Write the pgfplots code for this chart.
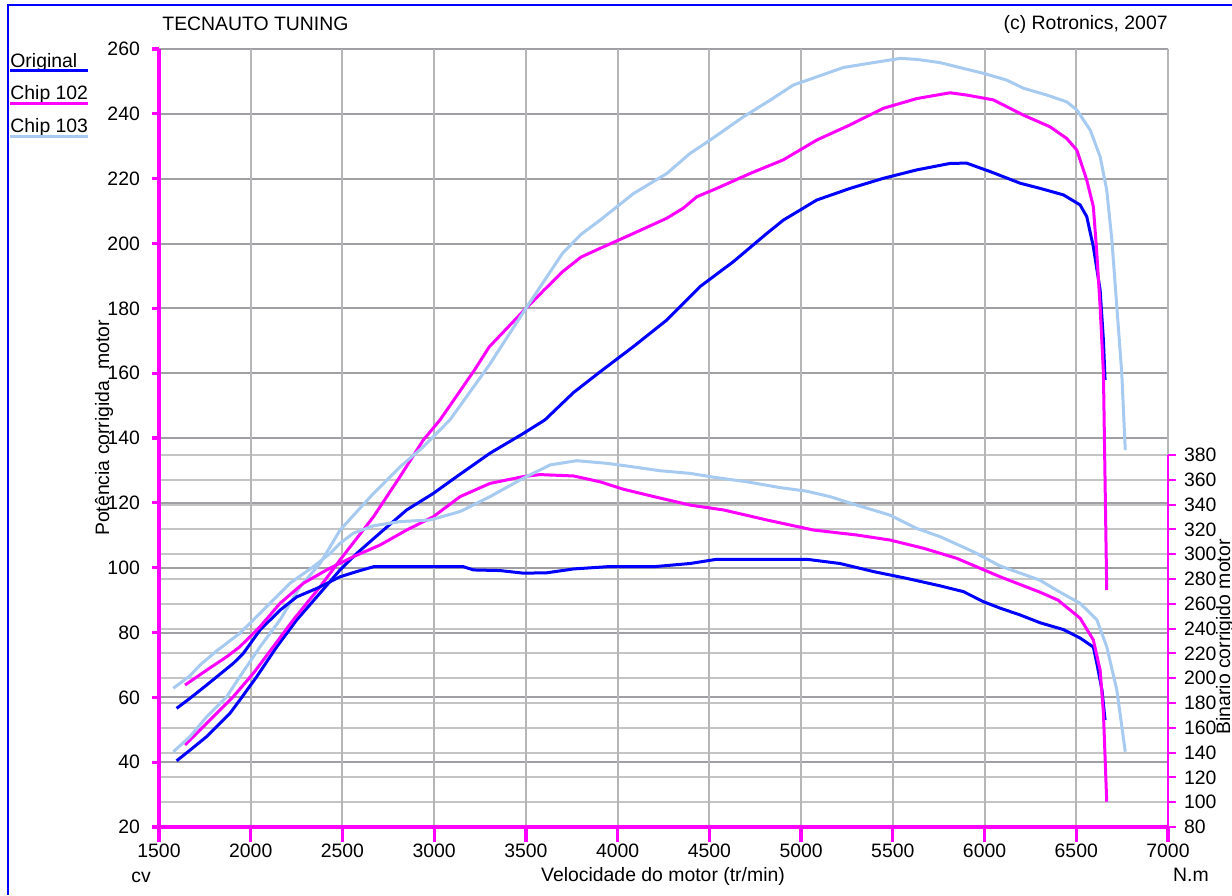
\documentclass[border=0pt]{standalone}
\usepackage{fontspec}
\setmainfont{Liberation Sans}
\usepackage{pgfplots}
\pgfplotsset{compat=1.18}
\usepackage{pgfplotstable}

\definecolor{orig}{RGB}{0,0,255}
\definecolor{chipa}{RGB}{255,0,255}
\definecolor{chipb}{RGB}{166,202,240}
\definecolor{gridA}{RGB}{160,160,164}
\definecolor{gridB}{RGB}{196,196,196}
\definecolor{gridV}{RGB}{182,182,182}

% power (cv) vs engine speed
\pgfplotstableread{
rpm cv
1596 40.4
1669 43.7
1760 47.9
1887 55.1
1941 59.2
2033 66.4
2142 75.6
2251 83.9
2360 91.0
2487 99.3
2578 104.4
2723 111.6
2850 117.8
2995 122.9
3123 128.1
3304 135.3
3486 141.4
3604 145.6
3759 154.0
3904 160.4
4086 168.2
4268 176.4
4449 186.7
4631 194.4
4813 203.1
4903 207.2
5085 213.4
5267 217.0
5448 220.1
5630 222.7
5812 224.7
5902 224.8
6030 222.2
6194 218.6
6303 217.0
6430 215.0
6521 211.9
6557 208.3
6593 199.0
6630 185.7
6648 170.2
6657 157.9
}\origpow

\pgfplotstableread{
rpm cv
1642 45.3
1760 52.0
1905 60.2
2014 67.4
2123 75.6
2232 83.9
2378 94.1
2487 102.4
2669 115.7
2814 128.1
2941 139.4
3032 145.6
3141 154.5
3220 161.0
3300 168.1
3500 180.0
3600 185.7
3700 191.3
3800 195.8
3904 198.5
4086 203.1
4268 207.8
4358 210.9
4431 214.4
4540 217.0
4722 221.6
4903 225.8
5085 231.9
5267 236.6
5448 241.7
5630 244.7
5812 246.5
5902 245.8
6048 244.3
6212 239.6
6357 236.0
6448 232.4
6503 228.8
6557 219.6
6593 211.4
6612 197.0
6630 180.5
6648 160.0
6666 93.1
}\chipapow

\pgfplotstableread{
rpm cv
1578 43.2
1669 47.9
1760 54.0
1869 60.2
1941 66.4
2051 75.6
2160 83.9
2269 94.1
2378 101.3
2487 111.6
2669 122.9
2814 131.1
2941 137.3
3086 145.6
3300 162.5
3500 180.0
3700 197.0
3800 202.8
3904 207.2
4086 215.4
4268 221.6
4395 227.8
4504 231.9
4686 239.1
4831 244.2
4958 248.9
5085 251.4
5231 254.3
5394 255.8
5540 257.1
5630 256.8
5757 255.8
5885 254.0
5994 252.5
6121 250.4
6212 247.9
6339 245.8
6448 243.7
6503 241.2
6576 235.0
6630 226.8
6666 216.5
6694 201.1
6721 180.5
6748 160.0
6767 136.3
}\chipbpow

% torque (N.m) vs engine speed
\pgfplotstableread{
rpm nm
1596 175.7
1669 183.8
1760 194.5
1905 212.0
1960 220.1
2051 238.9
2160 254.9
2251 265.6
2360 272.4
2487 281.8
2578 286.0
2669 289.9
3160 289.9
3214 287.3
3359 286.8
3486 284.7
3613 285.0
3759 288.1
3941 289.9
4195 289.9
4395 292.5
4540 295.9
5031 295.9
5212 292.5
5394 286.0
5576 280.5
5757 274.5
5885 269.8
5994 261.7
6085 256.5
6194 251.0
6303 244.7
6430 239.2
6521 232.4
6593 225.1
6612 212.0
6640 190.6
6657 166.3
}\origtq

\pgfplotstableread{
rpm nm
1642 194.5
1760 206.5
1869 217.3
1941 225.4
2051 241.6
2160 260.4
2287 276.6
2414 287.3
2559 298.0
2705 307.4
2850 319.5
2995 330.2
3141 346.4
3304 357.1
3486 362.6
3577 364.2
3759 363.1
3904 358.4
4031 352.4
4213 345.9
4395 339.6
4577 335.7
4813 327.6
5067 319.5
5303 315.5
5485 311.4
5667 304.8
5848 296.7
6085 281.8
6300 269.5
6400 263.0
6521 248.4
6593 230.8
6630 206.5
6648 172.0
6666 100.4
}\chipatq

\pgfplotstableread{
rpm nm
1578 191.9
1669 202.0
1723 210.5
1814 222.0
1941 236.3
2087 257.8
2214 276.6
2341 289.9
2432 300.6
2487 308.8
2559 316.9
2669 322.9
2814 326.3
2978 327.6
3141 334.4
3304 346.4
3486 361.3
3632 372.0
3777 375.4
3941 373.3
4086 370.4
4231 367.3
4395 365.2
4522 362.1
4704 358.4
4886 353.7
5031 350.8
5158 346.4
5303 339.6
5485 331.5
5630 320.8
5757 314.2
5939 302.0
6085 290.5
6300 279.2
6400 270.3
6521 260.4
6612 247.1
6666 225.4
6721 190.6
6767 140.7
}\chipbtq

\begin{document}
\begin{tikzpicture}[font=\fontsize{9.7}{11.6}\selectfont]
\useasboundingbox (0,0) rectangle (616pt,447.5pt);

\pgfplotsset{
  dyno/.style={
    scale only axis, width=504.5pt, height=389pt,
    at={(79.5pt,34pt)}, anchor=south west,
    xmin=1500, xmax=7000,
    /pgf/number format/assume math mode=true,
    /pgf/number format/1000 sep={},
    tick label style={font=\fontsize{9.7}{11.6}\selectfont},
  },
}

% torque grid (lighter lines)
\begin{axis}[dyno, ymin=80, ymax=707.42,
  axis line style={draw=none}, tick style={draw=none},
  xtick=\empty, ytick={100,120,...,380}, yticklabels={},
  ymajorgrids, y grid style={gridB, line width=1pt}]
\end{axis}

% power axis
\begin{axis}[dyno, ymin=20, ymax=260, clip=false,
  axis x line*=bottom, axis y line*=left,
  axis line style={draw=none},
  tick align=outside, major tick length=3.5pt,
  tick style={chipa, line width=1.65pt},
  xtick=\empty,
  extra x ticks={1500,2000,...,7000},
  extra x tick style={major tick length=7.5pt, grid=major},
  x grid style={gridV, line width=1pt},
  ytick={20,40,...,260},
  ymajorgrids, y grid style={gridA, line width=1pt},
  yticklabel style={anchor=east, xshift=-2pt},
  xticklabel style={anchor=north, yshift=3pt},
  line width=1.5pt]
\addplot[orig, no marks] table[x=rpm, y=cv] {\origpow};
\addplot[chipa, no marks] table[x=rpm, y=cv] {\chipapow};
\addplot[chipb, no marks] table[x=rpm, y=cv] {\chipbpow};
\draw[chipa, line width=1.65pt] (axis cs:1500,260) -- (axis cs:1500,20) -- (axis cs:7000,20);
\end{axis}

% torque axis
\begin{axis}[dyno, ymin=80, ymax=707.42, clip=false,
  axis x line=none, axis y line*=right,
  axis line style={draw=none},
  tick align=outside, major tick length=4pt,
  tick style={chipa, line width=1pt},
  ytick={80,100,...,380},
  yticklabel style={anchor=west, xshift=0pt},
  line width=1.5pt]
\draw[chipa, line width=1pt] (axis cs:7000,80) -- (axis cs:7000,380);
\addplot[orig, no marks] table[x=rpm, y=nm] {\origtq};
\addplot[chipa, no marks] table[x=rpm, y=nm] {\chipatq};
\addplot[chipb, no marks] table[x=rpm, y=nm] {\chipbtq};
\end{axis}

% frame
\draw[orig, line width=1pt] (4pt,0) -- (4pt,444.75pt) -- (616pt,444.75pt);

% texts
\node[anchor=west, inner sep=0] at (81pt,435.5pt) {TECNAUTO TUNING};
\node[anchor=east, inner sep=0] at (584pt,435.5pt) {(c) Rotronics, 2007};
\node[rotate=90, inner sep=0] at (52pt,233.5pt) {Potência corrigida\ \ motor};
\node[rotate=90, inner sep=0] at (612.5pt,129pt) {Binario corrigido motor};
\node[inner sep=0] at (331.5pt,9.5pt) {Velocidade do motor (tr/min)};
\node[inner sep=0] at (70.5pt,9pt) {cv};
\node[inner sep=0] at (595.5pt,10pt) {N.m};

% legend
\node[anchor=base west, inner sep=0] at (5pt,413.5pt) {Original};
\draw[orig, line width=1.6pt] (5pt,412.2pt) -- (44pt,412.2pt);
\node[anchor=base west, inner sep=0] at (5pt,397.5pt) {Chip 102};
\draw[chipa, line width=1.6pt] (5pt,395.9pt) -- (44pt,395.9pt);
\node[anchor=base west, inner sep=0] at (5pt,381pt) {Chip 103};
\draw[chipb, line width=1.6pt] (5pt,379.2pt) -- (44pt,379.2pt);
\end{tikzpicture}
\end{document}
